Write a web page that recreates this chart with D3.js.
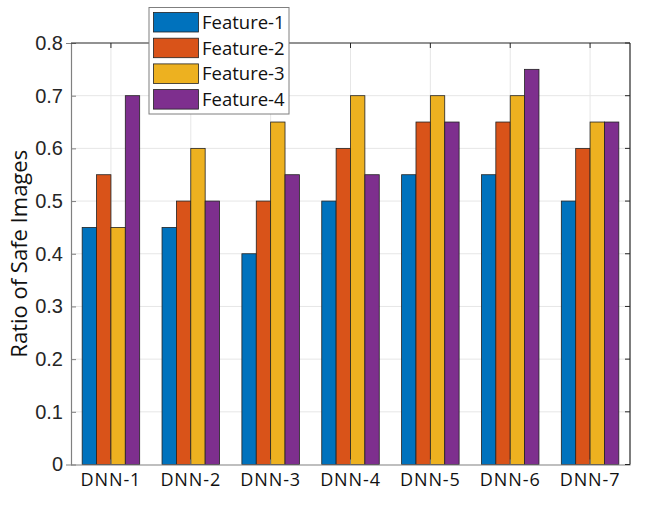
<!DOCTYPE html>
<html><head><meta charset="utf-8">
<script src="https://cdn.jsdelivr.net/npm/d3@7"></script>
<style>body{margin:0;background:#fff}svg{display:block}</style>
</head><body>
<script>
const categories = ["DNN-1","DNN-2","DNN-3","DNN-4","DNN-5","DNN-6","DNN-7"];
const seriesNames = ["Feature-1","Feature-2","Feature-3","Feature-4"];
const feature1 = [0.45,0.45,0.40,0.50,0.55,0.55,0.50];
const feature2 = [0.55,0.50,0.50,0.60,0.65,0.65,0.60];
const feature3 = [0.45,0.60,0.65,0.70,0.70,0.70,0.65];
const feature4 = [0.70,0.50,0.55,0.55,0.65,0.75,0.65];
const yTicks = [0,0.1,0.2,0.3,0.4,0.5,0.6,0.7,0.8];
const colors = ["#0072BD","#D95319","#EDB120","#7E2F8E"];
const series = [feature1,feature2,feature3,feature4];

const W=664,H=512, L=71, R=630, T=43, B=464.5;
const svg=d3.select("body").append("svg").attr("width",W).attr("height",H);
const x=d3.scaleBand().domain(categories).range([L,R]).paddingInner(0).paddingOuter(0);
const y=d3.scaleLinear().domain([0,0.8]).range([B,T]);
const groupW = x.bandwidth()*0.72;
const xs=d3.scaleBand().domain(seriesNames).range([0,groupW]);

// grid
const g=svg.append("g");
g.selectAll(".gy").data(yTicks.slice(1,-1)).enter().append("line")
 .attr("x1",L).attr("x2",R).attr("y1",d=>y(d)).attr("y2",d=>y(d))
 .attr("stroke","#e6e6e6").attr("stroke-width",1);
g.selectAll(".gx").data(categories).enter().append("line")
 .attr("x1",d=>x(d)+x.bandwidth()/2).attr("x2",d=>x(d)+x.bandwidth()/2).attr("y1",T).attr("y2",B)
 .attr("stroke","#e6e6e6").attr("stroke-width",1);

// bars
series.forEach((vals,si)=>{
  svg.append("g").selectAll("rect").data(vals).enter().append("rect")
   .attr("x",(d,i)=>x(categories[i])+(x.bandwidth()-groupW)/2+xs(seriesNames[si]))
   .attr("width",xs.bandwidth())
   .attr("y",d=>y(d)).attr("height",d=>B-y(d))
   .attr("fill",colors[si]).attr("stroke","#222").attr("stroke-width",0.8);
});

// axes
const yAxis=d3.axisLeft(y).tickValues(yTicks).tickSize(5).tickFormat(d=>d===0?"0":d3.format(".1f")(d));
const ya=svg.append("g").attr("transform",`translate(${L},0)`).call(yAxis);
ya.select(".domain").attr("stroke","#808080").attr("stroke-width",1.2);
ya.selectAll(".tick line").attr("stroke","#808080").attr("x2",5);
ya.selectAll(".tick text").attr("x",-8).attr("font-family","Liberation Sans, Arial, sans-serif").attr("font-size",20).attr("fill","#262626");

const xAxis=d3.axisBottom(x).tickSize(5).tickSizeOuter(0);
const xa=svg.append("g").attr("transform",`translate(0,${B})`).call(xAxis);
xa.select(".domain").attr("stroke","#808080").attr("stroke-width",1.2);
xa.selectAll(".tick line").attr("stroke","#808080").attr("y2",-5);
xa.selectAll(".tick text").attr("y",9).attr("font-family","Open Sans, Noto Sans, sans-serif").attr("font-size",18).attr("letter-spacing",0.9).attr("fill","#111");

// top & right box
svg.append("line").attr("x1",L).attr("x2",R).attr("y1",T).attr("y2",T).attr("stroke","#262626").attr("stroke-width",1.2);
svg.append("line").attr("x1",R).attr("x2",R).attr("y1",T).attr("y2",B).attr("stroke","#262626").attr("stroke-width",1.2);
svg.append("g").selectAll("line").data(categories).enter().append("line")
 .attr("x1",d=>x(d)+x.bandwidth()/2).attr("x2",d=>x(d)+x.bandwidth()/2).attr("y1",T).attr("y2",T+5).attr("stroke","#262626");
svg.append("g").selectAll("line").data(yTicks).enter().append("line")
 .attr("x1",R-5).attr("x2",R).attr("y1",d=>y(d)).attr("y2",d=>y(d)).attr("stroke","#262626");

// y label
svg.append("text").attr("transform",`translate(27,${(T+B)/2}) rotate(-90)`)
 .attr("text-anchor","middle").attr("font-family","Open Sans, Noto Sans, sans-serif").attr("font-size",22).attr("fill","#111")
 .text("Ratio of Safe Images");

// legend
const lg=svg.append("g");
lg.append("rect").attr("x",149).attr("y",7.5).attr("width",140).attr("height",106.5).attr("fill","#fff").attr("stroke","#7f7f7f").attr("stroke-width",1);
seriesNames.forEach((n,i)=>{
  const yy=12.5+i*25.7;
  lg.append("rect").attr("x",153.5).attr("y",yy).attr("width",45).attr("height",19.5).attr("fill",colors[i]).attr("stroke","#222").attr("stroke-width",0.8);
  lg.append("text").attr("x",202).attr("y",yy+16.5).attr("font-family","Open Sans, Noto Sans, sans-serif").attr("font-size",18.5).attr("fill","#111").text(n);
});
</script>
</body></html>
